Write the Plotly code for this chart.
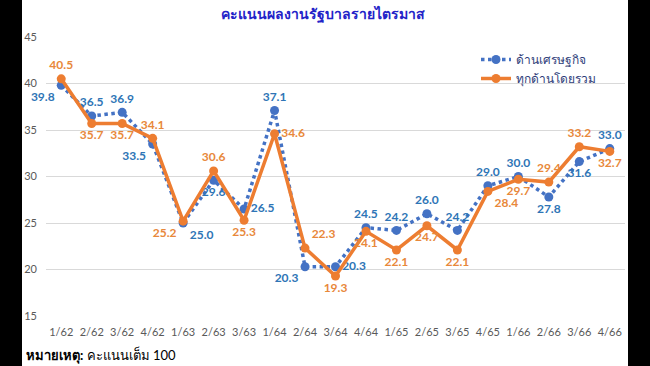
import plotly.graph_objects as go

quarters = ["1/62", "2/62", "3/62", "4/62", "1/63", "2/63", "3/63", "1/64", "2/64", "3/64",
            "4/64", "1/65", "2/65", "3/65", "4/65", "1/66", "2/66", "3/66", "4/66"]
economy = [39.8, 36.5, 36.9, 33.5, 25.0, 29.6, 26.5, 37.1, 20.3, 20.3,
           24.5, 24.2, 26.0, 24.2, 29.0, 30.0, 27.8, 31.6, 33.0]
overall = [40.5, 35.7, 35.7, 34.1, 25.2, 30.6, 25.3, 34.6, 22.3, 19.3,
           24.1, 22.1, 24.7, 22.1, 28.4, 29.7, 29.4, 33.2, 32.7]
y_ticks = [15, 20, 25, 30, 35, 40, 45]

series_names = ["ด้านเศรษฐกิจ", "ทุกด้านโดยรวม"]
title_text = "คะแนนผลงานรัฐบาลรายไตรมาส"
note_text = "<b>หมายเหตุ:</b> คะแนนเต็ม 100"

eco_pos = ["bottom left", "top center", "top center", "bottom left", "bottom right",
           "bottom center", "middle right", "top center", "bottom left", "middle right",
           "top center", "top center", "top center", "top center", "top center",
           "top center", "bottom center", "bottom center", "top center"]
all_pos = ["top center", "bottom center", "bottom center", "top center", "bottom left",
           "top center", "bottom center", "middle right", "top right", "bottom center",
           "bottom center", "bottom center", "bottom center", "bottom center", "bottom right",
           "bottom center", "top center", "top center", "bottom center"]

BLUE = "#4472C4"
ORANGE = "#ED7D31"
FONT = "Lato, 'Noto Sans', 'DejaVu Sans', sans-serif"

fig = go.Figure()
fig.add_trace(go.Scatter(
    x=quarters, y=economy, name=series_names[0], mode="lines+markers+text",
    line=dict(color=BLUE, width=3.5, dash="dot"),
    marker=dict(color=BLUE, size=9),
    text=[f"{v:.1f}" for v in economy], textposition=eco_pos,
    textfont=dict(color="#2E75B6", size=12, family=FONT, weight="bold"),
    cliponaxis=False,
))
fig.add_trace(go.Scatter(
    x=quarters, y=overall, name=series_names[1], mode="lines+markers+text",
    line=dict(color=ORANGE, width=3.5),
    marker=dict(color=ORANGE, size=9),
    text=[f"{v:.1f}" for v in overall], textposition=all_pos,
    textfont=dict(color="#E8883A", size=12, family=FONT, weight="bold"),
    cliponaxis=False,
))

L, R, T, B = 46, 25, 37, 50
W, H = 650, 366
pw = W - L - R
ph = H - T - B

fig.update_layout(
    width=W, height=H,
    margin=dict(l=L, r=R, t=T, b=B),
    paper_bgcolor="white", plot_bgcolor="white",
    font=dict(family=FONT, color="#595959"),
    title=dict(text=f"<b>{title_text}</b>", x=0.497, xanchor="center", y=1 - 14 / H, yanchor="middle",
               font=dict(size=14, color="#2323C8", family=FONT)),
    showlegend=True,
    legend=dict(x=(476 - L) / pw, y=1 - (45 - T) / ph, xanchor="left", yanchor="top",
                bgcolor="rgba(0,0,0,0)", font=dict(size=12, color="#2F3E7A", family=FONT),
                itemwidth=30, tracegroupgap=2),
    xaxis=dict(type="category", range=[-0.5, len(quarters) - 0.5], showgrid=False,
               showline=False, zeroline=False, ticks="",
               tickfont=dict(size=11, color="#595959", family=FONT), ticklabelstandoff=8),
    yaxis=dict(range=[15, 45], tickvals=y_ticks, showgrid=True, gridcolor="#D9D9D9", gridwidth=1,
               zeroline=False, showline=False, ticks="",
               tickfont=dict(size=11, color="#595959", family=FONT), ticklabelstandoff=8),
    annotations=[dict(text=note_text, xref="paper", yref="paper",
                      x=(24 - L) / pw, y=-(355 - (H - B)) / ph,
                      xanchor="left", yanchor="middle", showarrow=False,
                      font=dict(size=13, color="black", family=FONT))],
    shapes=[
        dict(type="rect", xref="paper", yref="paper", x0=(0 - L) / pw, x1=(22 - L) / pw,
             y0=-0.3, y1=1.3, fillcolor="black", line=dict(width=0), layer="above"),
        dict(type="rect", xref="paper", yref="paper", x0=(628 - L) / pw, x1=(W - L) / pw,
             y0=-0.3, y1=1.3, fillcolor="black", line=dict(width=0), layer="above"),
    ],
)

fig.write_html("out.html", config={"displayModeBar": False},
               post_script="document.body.style.margin='0';document.body.style.overflow='hidden';")
